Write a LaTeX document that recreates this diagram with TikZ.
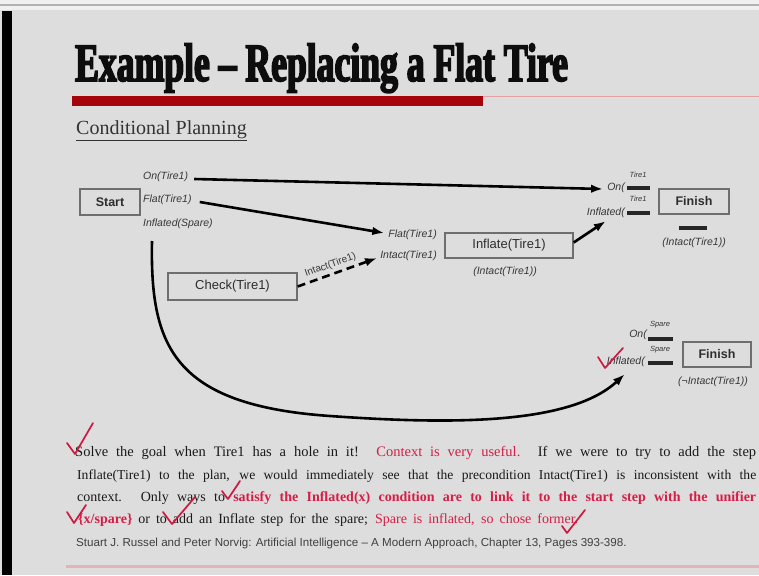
\documentclass[tikz,border=0pt]{standalone}
\usepackage{fontspec}
\setmainfont{Liberation Serif}
\setsansfont{Liberation Sans}
\newfontfamily\titlefont{Liberation Serif}[FakeStretch=0.66,BoldFeatures={FakeBold=3}]
\usetikzlibrary{arrows.meta}

\definecolor{slidebg}{RGB}{221,221,221}
\definecolor{stripbg}{RGB}{240,240,240}
\definecolor{barred}{RGB}{165,5,10}
\definecolor{thinred}{RGB}{228,160,165}
\definecolor{hlred}{RGB}{212,30,70}
\definecolor{tickred}{RGB}{205,25,65}
\definecolor{boxgray}{RGB}{110,110,110}
\definecolor{inkgray}{RGB}{45,45,45}
\definecolor{labgray}{RGB}{55,55,55}
\definecolor{pinkline}{RGB}{228,178,186}

\tikzset{
  stepbox/.style={draw=boxgray, line width=1.3pt, inner sep=0pt, text=inkgray,
    font=\sffamily\fontsize{13}{15}\selectfont},
  endbox/.style={stepbox, font=\sffamily\bfseries\fontsize{12.5}{15}\selectfont},
  cond/.style={inner sep=0pt, text=labgray, font=\sffamily\itshape\fontsize{10.5}{12}\selectfont},
  tinycond/.style={inner sep=0pt, text=labgray, font=\sffamily\itshape\fontsize{7.5}{9}\selectfont},
  strike/.style={line width=3.2pt, black!85},
  flow/.style={line width=2.6pt, black, -{Latex[length=12pt,width=8.5pt]}},
  tick/.style={draw=tickred, line width=1.7pt, line cap=round, line join=round},
  para/.style={anchor=base west, inner sep=0pt, text=black!90, font=\fontsize{14}{16}\selectfont},
}

\begin{document}
\begin{tikzpicture}[x=1pt,y=-1pt]
\useasboundingbox (0,0) rectangle (759,575);
% slide background, top strip and left bar
\fill[slidebg] (0,0) rectangle (759,575);
\fill[stripbg] (0,0) rectangle (759,10);
\draw[gray!60, line width=1.2pt] (0,5) -- (759,5);
\fill[black] (2,11) rectangle (12,575);

% heading
\node[anchor=base west, inner sep=0pt, text=black!95,
  font=\titlefont\bfseries\fontsize{54}{56}\selectfont] (title) at (75,81)
  {Example – Replacing a Flat Tire};
\fill[barred] (72,96) rectangle (483,106);
\draw[thinred, line width=1pt] (483,96.5) -- (759,96.5);
\node[anchor=base west, inner sep=0pt, text=black!80,
  font=\fontsize{20}{23}\selectfont] (subtitle) at (76,134)
  {\underline{Conditional Planning}};

% plan steps
\node[endbox, minimum width=60pt, minimum height=26pt] (start) at (110,202) {Start};
\node[stepbox, minimum width=129pt, minimum height=27pt] (check) at (232.5,286.5) {Check(Tire1)};
\node[stepbox, minimum width=128pt, minimum height=25pt] (inflate) at (509,245.5) {Inflate(Tire1)};
\node[endbox, minimum width=70pt, minimum height=25pt] (finish) at (694,201.5) {Finish};
\node[endbox, minimum width=68pt, minimum height=25pt] (finishB) at (717,354.5) {Finish};

% effects of Start
\node[cond, anchor=west] (onT) at (143,177) {On(Tire1)};
\node[cond, anchor=west] (flatT) at (143,200) {Flat(Tire1)};
\node[cond, anchor=west] (inflSp) at (143,224) {Inflated(Spare)};

% preconditions of Inflate
\node[cond, anchor=east] (jFlat) at (437,235) {Flat(Tire1)};
\node[cond, anchor=east] (jIntact) at (437,256) {Intact(Tire1)};
\node[cond] (inflCtx) at (505,272) {(Intact(Tire1))};

% preconditions of the first Finish
\node[cond, anchor=east] (fOn) at (625,188) {On(};
\node[tinycond] (fOnArg) at (638,175) {Tire1};
\draw[strike] (627,188) -- (650,188);
\node[cond, anchor=east] (jInfl) at (625,213) {Inflated(};
\node[tinycond] (fInflArg) at (638,199) {Tire1};
\draw[strike] (627,213) -- (650,213);
\draw[strike] (679,228) -- (707,228);
\node[cond] (finCtx) at (694,243) {(Intact(Tire1))};

% preconditions of the second Finish
\node[cond, anchor=east] (bOn) at (647,335) {On(};
\node[tinycond] (bOnArg) at (660,325) {Spare};
\draw[strike] (648,339) -- (673,339);
\node[cond, anchor=east] (bInfl) at (645,362) {Inflated(};
\node[tinycond] (bInflArg) at (660,350) {Spare};
\draw[strike] (648,363) -- (673,363);
\node[cond] (finBCtx) at (713,382) {(¬Intact(Tire1))};

% causal links
\draw[flow] ([shift={(6,2)}]onT.east) -- ([shift={(-4,1)}]fOn.west);
\draw[flow] ([shift={(8,2)}]flatT.east) -- ([shift={(-4,-2)}]jFlat.west);
\draw[flow, dash pattern=on 8pt off 5pt] (check.east) -- ([shift={(-3,2)}]jIntact.west)
  node[pos=0.45, sloped, above=3pt, inner sep=0pt, text=labgray,
    font=\sffamily\fontsize{10}{12}\selectfont] (dashLab) {Intact(Tire1)};
\draw[flow] ([shift={(0,-3)}]inflate.east) -- ([shift={(0,3)}]jInfl.south);
\draw[flow] ([shift={(9,17)}]inflSp.west)
  .. controls (150,345) and (172,405) .. (330,416)
  .. controls (450,424.5) and (570,425) .. ([shift={(-1,7)}]bInfl.south);

% explanation
\node[para, font=\fontsize{14.5}{16}\selectfont] (l1) at (75,456) {\makebox[681pt][s]{Solve the goal when Tire1 has a hole in it! \textcolor{hlred}{Context is very useful.} If we were to try to add the step}};
\node[para, font=\fontsize{13.6}{16}\selectfont] (l2) at (77,479) {\makebox[679pt][s]{Inflate(Tire1) to the plan, we would immediately see that the precondition Intact(Tire1) is inconsistent with the}};
\node[para] (l3) at (77,501) {\makebox[679pt][s]{context. Only ways to \textcolor{hlred}{\bfseries satisfy the Inflated(x) condition are to link it to the start step with the unifier}}};
\node[para] (l4) at (78,523) {\makebox[500pt][s]{\textcolor{hlred}{\bfseries\{x/spare\}} or to add an Inflate step for the spare; \textcolor{hlred}{Spare is inflated, so chose former.}}};
\node[anchor=base west, inner sep=0pt, text=black!75,
  font=\sffamily\fontsize{11.6}{13}\selectfont] (cite) at (76,546)
  {Stuart J. Russel and Peter Norvig: Artificial Intelligence – A Modern Approach, Chapter 13, Pages 393-398.};
\draw[pinkline, line width=3pt] (66,566) -- (759,566);

% hand-drawn check marks
\draw[tick] (67,443) -- (75,454) -- (93,423);
\draw[tick] (67,512) -- (74,523) -- (86,505);
\draw[tick] (163,512) -- (172,524) -- (195,497);
\draw[tick] (222,491) -- (228,499) -- (240,481);
\draw[tick] (562,526) -- (567,533) -- (585,510);
\draw[tick] (598,357) -- (605,368) -- (623,348);
\end{tikzpicture}
\end{document}
